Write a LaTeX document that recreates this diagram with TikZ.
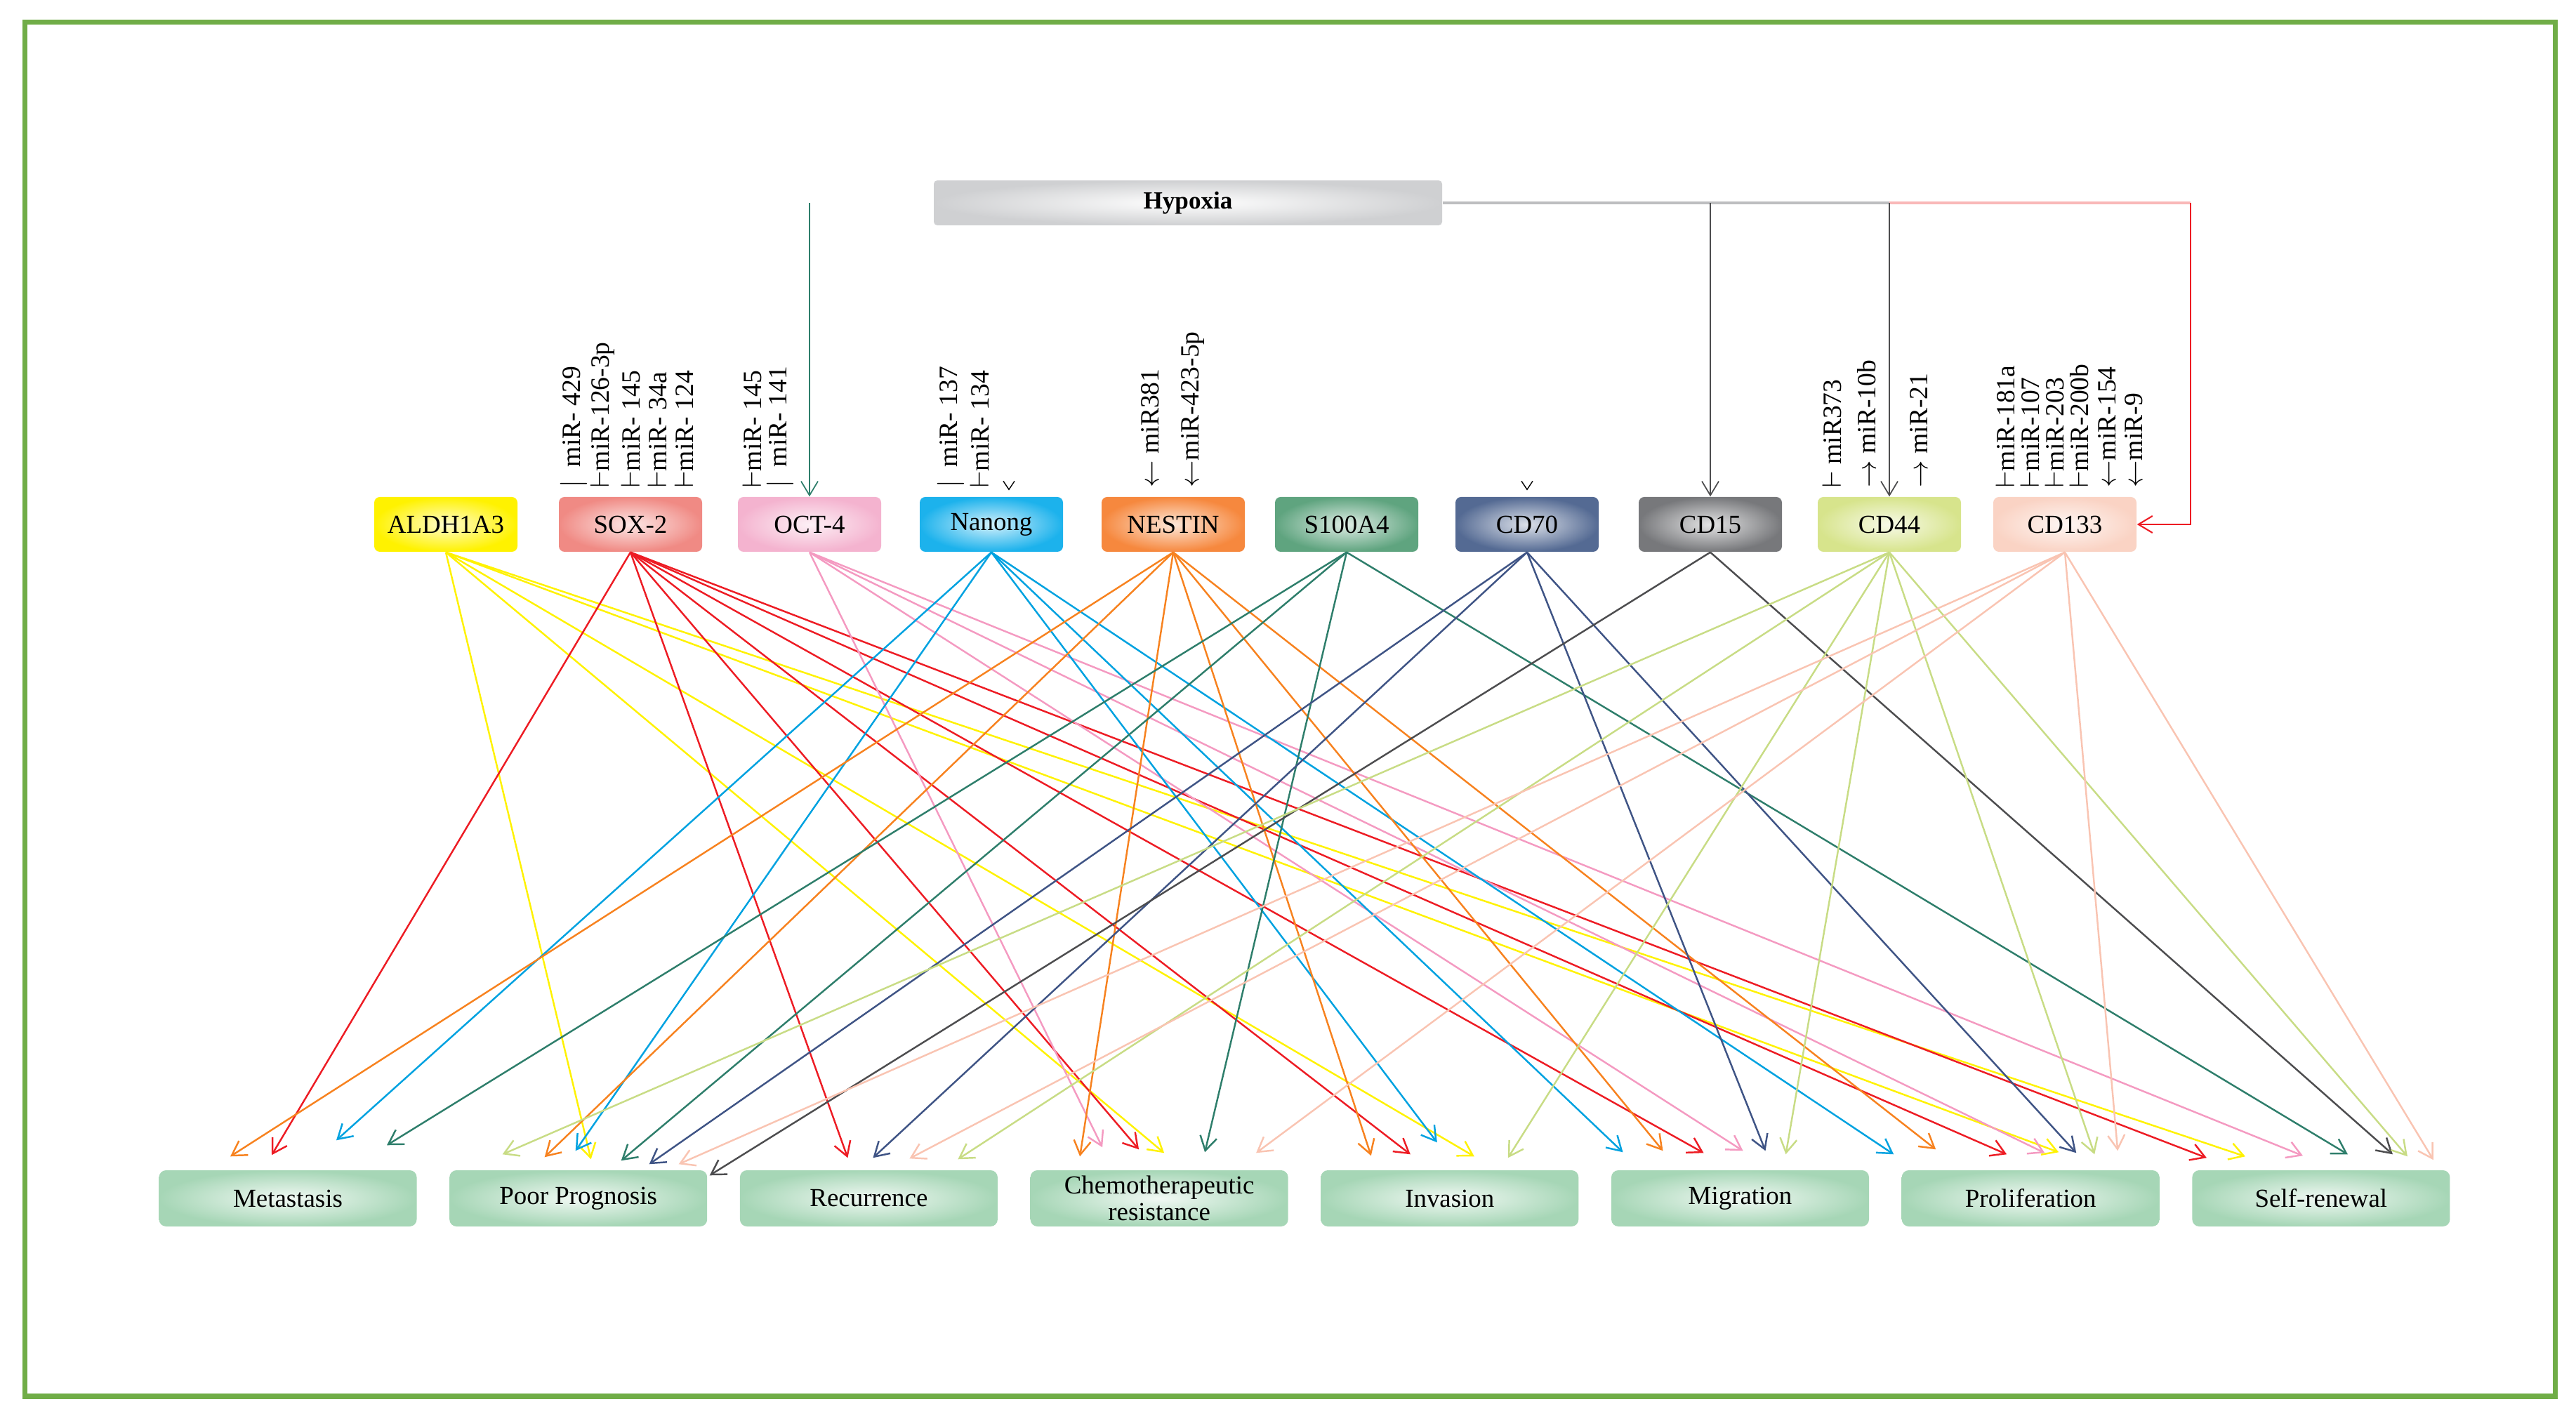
\documentclass[tikz,border=0pt]{standalone}
\usepackage{fontspec}
\setmainfont{Liberation Serif}
\usetikzlibrary{arrows.meta}

\definecolor{frame}{HTML}{70AD47}
\definecolor{outbox}{HTML}{A6D6B6}
\definecolor{hypbox}{HTML}{CFD0D2}
\definecolor{hypgray}{HTML}{BDBEC0}
\definecolor{hyppink}{HTML}{F9B8B8}
% box colours
\definecolor{fAldh}{HTML}{FFF200}
\definecolor{fSox}{HTML}{F08A84}
\definecolor{fOct}{HTML}{F4B3CF}
\definecolor{fNanong}{HTML}{1CB2EC}
\definecolor{fNestin}{HTML}{F6883E}
\definecolor{fSfour}{HTML}{5FA47F}
\definecolor{fCDsvt}{HTML}{546A93}
\definecolor{fCDfft}{HTML}{77787B}
\definecolor{fCDffo}{HTML}{D7E48C}
\definecolor{fCDott}{HTML}{FAD3C4}
% line colours
\definecolor{lAldh}{HTML}{FFF200}
\definecolor{lSox}{HTML}{ED1C24}
\definecolor{lOct}{HTML}{F49AC1}
\definecolor{lNanong}{HTML}{00A2E0}
\definecolor{lNestin}{HTML}{F7821F}
\definecolor{lSfour}{HTML}{2E7E6B}
\definecolor{lCDsvt}{HTML}{3F5485}
\definecolor{lCDfft}{HTML}{4D4D4F}
\definecolor{lCDffo}{HTML}{C8DC85}
\definecolor{lCDott}{HTML}{F9C4B2}

\tikzset{
    marker/.style={rounded corners=0.08cm, minimum width=2.04cm, minimum height=0.78cm,
        inner sep=0pt, font=\fontsize{10.5}{12}\selectfont},
    outcome/.style={rounded corners=0.1cm, minimum width=3.67cm, minimum height=0.80cm,
        inner sep=0pt, inner color=outbox!15!white, outer color=outbox, align=center,
        font=\fontsize{10.5}{11}\selectfont},
    mir/.style={rotate=90, anchor=west, inner sep=0pt, font=\fontsize{10.7}{12}\selectfont},
    link/.style={-{Straight Barb[length=2mm,width=2.4mm]}, line width=0.7pt},
}

\begin{document}
\begin{tikzpicture}
            \useasboundingbox (0,0) rectangle (36.69,20.26);
            \draw[frame, line width=2pt] (0.355,0.37) rectangle (36.39,19.945);

            \node[rounded corners=0.05cm, minimum width=7.24cm, minimum height=0.64cm,
                inner color=white, outer color=hypbox, font=\fontsize{10}{12}\selectfont\bfseries]
                (hyp) at (16.92,17.37) {Hypoxia};

            \foreach \name/\lab/\col/\x in {aldh/ALDH1A3/fAldh/6.35, sox/SOX-2/fSox/8.98,
                    oct/OCT-4/fOct/11.53, nanong/Nanong/fNanong/14.12, nestin/NESTIN/fNestin/16.71,
                    sfour/S100A4/fSfour/19.18, cdsvt/CD70/fCDsvt/21.75, cdfft/CD15/fCDfft/24.36,
                    cdffo/CD44/fCDffo/26.91, cdott/CD133/fCDott/29.41} {
                \node[marker, inner color=\col!20!white, outer color=\col] (\name) at (\x,12.79) {\lab};
            }

            \foreach \name/\lab [count=\i from 0] in {met/Metastasis, pp/Poor Prognosis,
                    rec/Recurrence, chemo/{Chemotherapeutic\\resistance}, inv/Invasion,
                    mig/Migration, prol/Proliferation, renew/Self-renewal} {
                \node[outcome] (\name) at (4.10+4.137*\i,3.19) {\lab};
            }

            % hypoxia
            \coordinate (hypturn) at ([xshift=0.76cm]cdott.east |- hyp.east);
            \draw[hypgray, line width=1.2pt] (hyp.east) -- (cdffo.north |- hyp.east);
            \draw[hyppink, line width=1.2pt] (cdffo.north |- hyp.east) -- (hypturn);
            \draw[link, line width=0.5pt, lCDfft] (cdfft.north |- hyp.east) -- (cdfft.north);
            \draw[link, line width=0.5pt, lCDfft] (cdffo.north |- hyp.east) -- (cdffo.north);
            \draw[link, line width=0.6pt, lSox] (hypturn) |- (cdott.east);
            \draw[link, line width=0.5pt, lSfour] (oct.north |- hyp.east) -- (oct.north);

            % microRNAs
            \foreach \dx/\txt [count=\i] in {-0.81/{$|$\ \ miR- 429}, -0.40/{$\vdash$miR-126-3p},
                    0.00/{$\vdash$miR- 145}, 0.38/{$\vdash$miR- 34a}, 0.76/{$\vdash$miR- 124}} {
                \node[mir] (soxmir\i) at ([shift={(\dx,0.12)}]sox.north) {\txt};
            }
            \foreach \dx/\txt [count=\i] in {-0.82/{$\vdash$miR- 145}, -0.42/{$|$\ \ miR- 141}} {
                \node[mir] (octmir\i) at ([shift={(\dx,0.12)}]oct.north) {\txt};
            }
            \foreach \dx/\txt [count=\i] in {-0.58/{$|$\ \ miR- 137}, -0.17/{$\vdash$miR- 134}} {
                \node[mir] (nanongmir\i) at ([shift={(\dx,0.12)}]nanong.north) {\txt};
            }
            \foreach \dx/\txt [count=\i] in {-0.33/{$\leftarrow$ miR381}, 0.28/{$\leftarrow$miR-423-5p}} {
                \node[mir] (nestinmir\i) at ([shift={(\dx,0.12)}]nestin.north) {\txt};
            }
            \foreach \dx/\txt [count=\i] in {-0.82/{$\vdash$ miR373}, -0.32/{$\rightarrow$ miR-10b},
                    0.42/{$\rightarrow$ miR-21}} {
                \node[mir] (cdffomir\i) at ([shift={(\dx,0.12)}]cdffo.north) {\txt};
            }
            \foreach \dx/\txt [count=\i] in {-0.85/{$\vdash$miR-181a}, -0.50/{$\vdash$miR-107},
                    -0.15/{$\vdash$miR-203}, 0.20/{$\vdash$miR-200b}, 0.60/{$\leftarrow$miR-154},
                    0.98/{$\leftarrow$miR-9}} {
                \node[mir] (cdottmir\i) at ([shift={(\dx,0.12)}]cdott.north) {\txt};
            }
            \draw ([shift={(0.17,0.22)}]nanong.north) -- ++(0.08,-0.12) -- ++(0.08,0.12);
            \draw ([shift={(-0.08,0.22)}]cdsvt.north) -- ++(0.08,-0.12) -- ++(0.08,0.12);

            % markers to outcomes
            \foreach \t/\dx/\dy in {pp/0.18/0.15, chemo/0.07/0.24, inv/0.35/0.19, prol/0.40/0.25,
                    renew/-1.08/0.19} {
                \draw[link, lAldh] (aldh.south) -- ([shift={(\dx,\dy)}]\t.north);
            }
            \foreach \t/\dx/\dy in {met/-0.23/0.21, rec/-0.30/0.17, chemo/-0.29/0.29, inv/-0.56/0.22,
                    mig/-0.52/0.24, prol/-0.34/0.22, renew/-1.63/0.17} {
                \draw[link, lSox] (sox.south) -- ([shift={(\dx,\dy)}]\t.north);
            }
            \foreach \t/\dx/\dy in {chemo/-0.81/0.32, mig/0.04/0.27, prol/0.20/0.24, renew/-0.26/0.20} {
                \draw[link, lOct] (oct.south) -- ([shift={(\dx,\dy)}]\t.north);
            }
            \foreach \t/\dx/\dy in {met/0.69/0.42, pp/-0.04/0.27, inv/-0.18/0.39, mig/-1.67/0.25,
                    prol/-1.95/0.22} {
                \draw[link, lNanong] (nanong.south) -- ([shift={(\dx,\dy)}]\t.north);
            }
            \foreach \t/\dx/\dy in {met/-0.82/0.19, pp/-0.48/0.18, chemo/-1.13/0.19, inv/-1.12/0.20,
                    mig/-1.10/0.27, prol/-1.35/0.29} {
                \draw[link, lNestin] (nestin.south) -- ([shift={(\dx,\dy)}]\t.north);
            }
            \foreach \t/\dx/\dy in {met/1.41/0.35, pp/0.61/0.13, chemo/0.65/0.25, renew/0.38/0.22} {
                \draw[link, lSfour] (sfour.south) -- ([shift={(\dx,\dy)}]\t.north);
            }
            \foreach \t/\dx/\dy in {pp/1.01/0.08, rec/0.06/0.17, mig/0.36/0.27, prol/0.65/0.24} {
                \draw[link, lCDsvt] (cdsvt.south) -- ([shift={(\dx,\dy)}]\t.north);
            }
            \foreach \t/\dx/\dy in {pp/1.87/-0.08, renew/1.02/0.22} {
                \draw[link, lCDfft] (cdfft.south) -- ([shift={(\dx,\dy)}]\t.north);
            }
            \foreach \t/\dx/\dy in {pp/-1.08/0.22, rec/1.27/0.15, inv/0.83/0.17, mig/0.65/0.22,
                    prol/0.91/0.22, renew/1.23/0.19} {
                \draw[link, lCDffo] (cdffo.south) -- ([shift={(\dx,\dy)}]\t.north);
            }
            \foreach \t/\dx/\dy in {pp/1.43/0.08, rec/0.58/0.16, chemo/1.38/0.24, prol/1.24/0.27,
                    renew/1.60/0.14} {
                \draw[link, lCDott] (cdott.south) -- ([shift={(\dx,\dy)}]\t.north);
            }
\end{tikzpicture}
\end{document}
